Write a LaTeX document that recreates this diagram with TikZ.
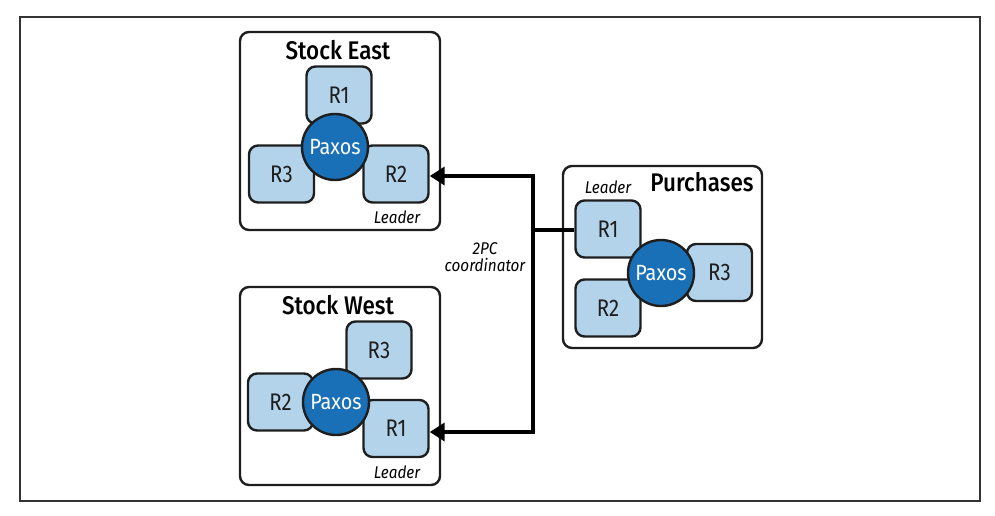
\documentclass[tikz,border=0pt]{standalone}
\usepackage{fontspec}
\setmainfont{Fira Sans}[FakeStretch=0.9]
\newfontfamily\repfont{Fira Sans}[FakeStretch=0.85]
\newfontfamily\titlefont{Fira Sans Medium}[FakeStretch=0.88]
\usetikzlibrary{arrows.meta}
\definecolor{boxblue}{HTML}{B3D3EA}
\definecolor{paxblue}{HTML}{1A70B6}
\definecolor{edge}{HTML}{1E1E1E}
\tikzset{
  x=1pt,y=-1pt,
  shard/.style={draw=edge,line width=2.4pt,rounded corners=9pt},
  rep/.style={draw=edge,fill=boxblue,line width=2.4pt,rounded corners=9pt,minimum width=65pt,minimum height=57pt,inner sep=0pt,font=\repfont\fontsize{24}{26}\selectfont,text=edge},
  paxos/.style={circle,draw=edge,fill=paxblue,line width=2.4pt,minimum size=66pt,inner sep=0pt,text=white,font=\fontsize{22}{24}\selectfont},
  title/.style={font=\titlefont\fontsize{25.5}{28}\selectfont,text=black,inner sep=0pt},
  small/.style={font=\itshape\fontsize{17}{19}\selectfont,text=black,inner sep=0pt,align=center},
  conn/.style={line width=3.6pt,draw=black},
  tip/.style={-{Triangle[length=15pt,width=18pt]}}
}
\begin{document}
\begin{tikzpicture}
\useasboundingbox (0,0) rectangle (995,515);
\draw[line width=1.3pt,draw=black!80] (20,17) rectangle (980,501);
% Stock East
\draw[shard] (240,32) rectangle (440,230);
\node[title] (te) at (338,50) {Stock East};
\node[rep] (e1) at (339,95) {R1};
\node[rep] (e3) at (281.5,174) {R3};
\node[rep] (e2) at (396,174) {R2};
\node[paxos] (ep) at (335,147) {Paxos};
\node[small] (el) at (397,217) {Leader};
% Stock West
\draw[shard] (240,287) rectangle (440,485);
\node[title] (tw) at (338,305) {Stock West};
\node[rep] (w3) at (379,350) {R3};
\node[rep] (w2) at (280.5,402) {R2};
\node[rep] (w1) at (396,428.5) {R1};
\node[paxos] (wp) at (336,402) {Paxos};
\node[small] (wl) at (397,472) {Leader};
% Purchases
\draw[shard] (563,166) rectangle (762,348);
\node[title] (tp) at (702,182) {Purchases};
\node[small] (pl) at (608,187) {Leader};
\node[rep] (p1) at (608,229) {R1};
\node[rep] (p2) at (608,308) {R2};
\node[rep] (p3) at (719.5,272.5) {R3};
\node[paxos] (pp) at (661,273) {Paxos};
% connectors
\coordinate (j) at (533,230);
\coordinate (jt) at (533,176);
\coordinate (jb) at (533,432);
\draw[conn] (p1.west|-j) -- (j);
\draw[conn,tip] (jb) -- (jt) -- (e2.east|-jt);
\draw[conn,tip] (jt) -- (jb) -- (w1.east|-jb);
\node[small] (coord) at (485,257) {2PC\\[-2pt]coordinator};
\end{tikzpicture}
\end{document}
